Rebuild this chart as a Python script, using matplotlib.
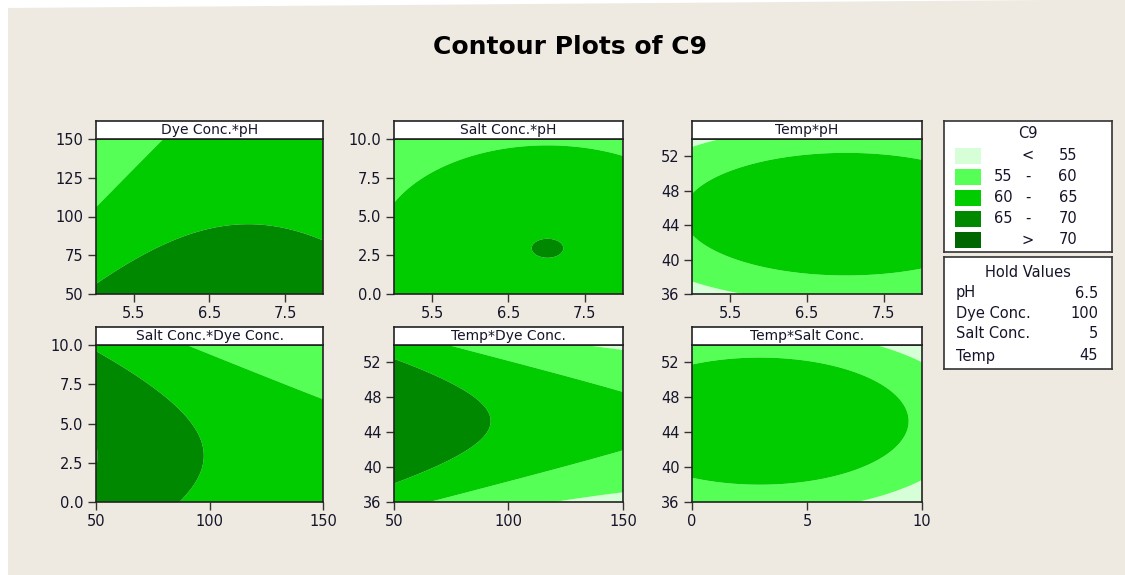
import numpy as np
import matplotlib
matplotlib.use("Agg")
import matplotlib.pyplot as plt
from matplotlib.patches import Polygon, Rectangle

# ---------------- data ----------------
factors = ["pH", "Dye Conc.", "Salt Conc.", "Temp"]
lows = [5.0, 50.0, 0.0, 36.0]
highs = [8.0, 150.0, 10.0, 54.0]
hold_labels = ["6.5", "100", "5", "45"]

# response-surface coefficients in coded units (estimated from the contours)
b0 = 64.3
b_lin = [1.54, -4.3, -2.345, 0.44]
b_sq = [-2.26, 1.0, -2.86, -7.3]

contour_levels = [55, 60, 65, 70]
level_colors = ["#D7FFD7", "#55FF55", "#00CC00", "#008800", "#006600"]
legend_rows = [("", "<", "55"), ("55", "-", "60"), ("60", "-", "65"),
               ("65", "-", "70"), ("", ">", "70")]

# panels: (x factor, y factor, title)
panels = [(0, 1, "Dye Conc.*pH"), (0, 2, "Salt Conc.*pH"), (0, 3, "Temp*pH"),
          (1, 2, "Salt Conc.*Dye Conc."), (1, 3, "Temp*Dye Conc."),
          (2, 3, "Temp*Salt Conc.")]
ticks = {0: [5.5, 6.5, 7.5], 1: [50, 75, 100, 125, 150],
         2: [0.0, 2.5, 5.0, 7.5, 10.0], 3: [36, 40, 44, 48, 52]}
xticks_override = {1: [50, 100, 150], 2: [0, 5, 10]}
tick_fmt = {0: "{:.1f}", 1: "{:.0f}", 2: "{:.1f}", 3: "{:.0f}"}
xtick_fmt = {0: "{:.1f}", 1: "{:.0f}", 2: "{:.0f}"}

# ---------------- layout ----------------
W, H = 1125, 575
fig = plt.figure(figsize=(W / 100, H / 100), dpi=100, facecolor="white")
TXT = "#15152a"
BG = "#EEEAE1"

bg = Polygon([(8 / W, 1 - 8 / H), (1050 / W, 1.0), (1.0, 1.0), (1.0, 0.0), (8 / W, 0.0)],
             closed=True, transform=fig.transFigure, facecolor=BG, edgecolor="none", zorder=-10)
fig.add_artist(bg)


def px_axes(l, t, r, b):
    return fig.add_axes([l / W, 1 - b / H, (r - l) / W, (b - t) / H])


fig.text(570 / W, 1 - 47 / H, "Contour Plots of C9", ha="center", va="center",
         fontsize=18, fontweight="bold", color="black")

cols = [(96, 323), (394, 623), (692, 922)]
rows = [(139, 294), (345, 502)]
slots = [(0, 0), (0, 1), (0, 2), (1, 0), (1, 1), (1, 2)]


def response(vals):
    z = b0
    for i in range(4):
        c = (vals[i] - (lows[i] + highs[i]) / 2) / ((highs[i] - lows[i]) / 2)
        z = z + b_lin[i] * c + b_sq[i] * c ** 2
    return z


hold_vals = [(lo + hi) / 2 for lo, hi in zip(lows, highs)]
bounds = [-1e9] + contour_levels + [1e9]

for (fx, fy, title), (r, c) in zip(panels, slots):
    l, rr = cols[c]
    t, b = rows[r]
    ax = px_axes(l, t, rr, b)
    xs = np.linspace(lows[fx], highs[fx], 300)
    ys = np.linspace(lows[fy], highs[fy], 300)
    X, Y = np.meshgrid(xs, ys)
    vals = [np.full_like(X, v) for v in hold_vals]
    vals[fx] = X
    vals[fy] = Y
    Z = response(vals)
    ax.contourf(X, Y, Z, levels=bounds, colors=level_colors, antialiased=True)
    ax.set_xlim(lows[fx], highs[fx])
    ax.set_ylim(lows[fy], highs[fy])
    xt = xticks_override.get(fx, ticks[fx])
    ax.set_xticks(xt)
    ax.set_xticklabels([xtick_fmt[fx].format(v) for v in xt])
    ax.set_yticks(ticks[fy])
    ax.set_yticklabels([tick_fmt[fy].format(v) for v in ticks[fy]])
    ax.tick_params(direction="out", length=6, width=1, color="#333333",
                   labelsize=10.5, labelcolor=TXT, pad=3)
    for sp in ax.spines.values():
        sp.set_linewidth(1.2)
        sp.set_color("#222222")
    hx = px_axes(l, t - 18, rr, t)
    hx.set_facecolor("white")
    hx.set_xticks([])
    hx.set_yticks([])
    for sp in hx.spines.values():
        sp.set_linewidth(1.2)
        sp.set_color("#222222")
    hx.text(0.5, 0.48, title, ha="center", va="center", fontsize=10, color=TXT,
            transform=hx.transAxes)

# ---------------- legend box ----------------
lg = px_axes(944, 121, 1112, 252)
lg.set_xlim(0, 168)
lg.set_ylim(131, 0)
lg.set_facecolor("white")
lg.set_xticks([])
lg.set_yticks([])
for sp in lg.spines.values():
    sp.set_linewidth(1.2)
    sp.set_color("#333333")
lg.text(84, 12, "C9", ha="center", va="center", fontsize=10.5, color=TXT)
row_y = [34.7, 55.5, 76.5, 97.5, 119]
for yy, col, (lo, mid, hi) in zip(row_y, level_colors, legend_rows):
    lg.add_patch(Rectangle((11, yy - 8), 26, 16, facecolor=col, edgecolor="none"))
    lg.text(59, yy, lo, ha="center", va="center", fontsize=10.5, color=TXT)
    lg.text(84, yy, mid, ha="center", va="center", fontsize=10.5, color=TXT)
    lg.text(133, yy, hi, ha="right", va="center", fontsize=10.5, color=TXT)

hv = px_axes(944, 257, 1112, 369)
hv.set_xlim(0, 168)
hv.set_ylim(112, 0)
hv.set_facecolor("white")
hv.set_xticks([])
hv.set_yticks([])
for sp in hv.spines.values():
    sp.set_linewidth(1.2)
    sp.set_color("#333333")
hv.text(84, 15.5, "Hold Values", ha="center", va="center", fontsize=10.5, color=TXT)
hold_y = [36, 56.5, 77, 99]
for yy, name, val in zip(hold_y, factors, hold_labels):
    hv.text(12, yy, name, ha="left", va="center", fontsize=10.5, color=TXT)
    hv.text(154, yy, val, ha="right", va="center", fontsize=10.5, color=TXT)

fig.savefig("out.png", dpi=100, facecolor="white")
